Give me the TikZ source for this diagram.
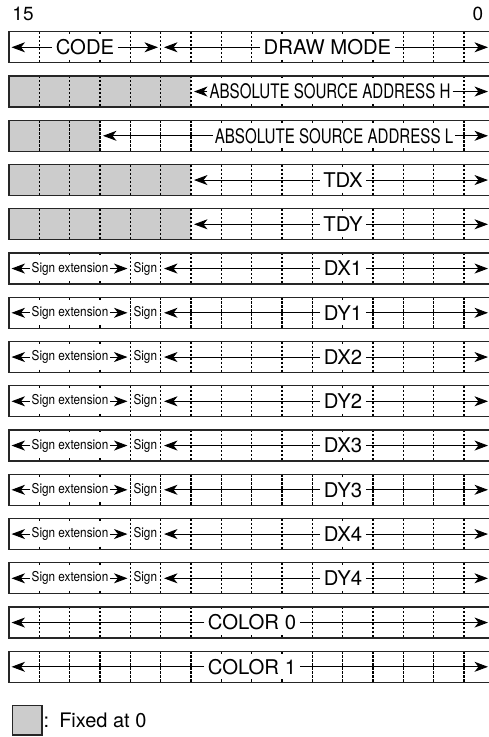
\documentclass[tikz,border=0pt]{standalone}
\usepackage{fontspec}
\setmainfont{TeX Gyre Heros}
\newfontfamily\absfont[FakeStretch=0.755]{TeX Gyre Heros}
\newfontfamily\sgnfont[FakeStretch=0.87]{TeX Gyre Heros}
\usetikzlibrary{arrows.meta}
\begin{document}
\begin{tikzpicture}[x=1pt,y=-1pt,
  regbox/.style={draw=black!85, line width=1.3pt},
  fixedfill/.style={fill=black!20},
  bitsep/.style={dash pattern=on 2.4pt off 1.6pt, line width=1.1pt},
  arr/.style={-{Stealth[length=13.5pt,width=10pt,inset=4pt]}, line width=1pt},
  lbl/.style={fill=white, font=\fontsize{20.3}{20.3}\selectfont, inner xsep=3.5pt, inner ysep=0pt, minimum height=23pt},
  abslbl/.style={lbl, font=\absfont\fontsize{20}{20}\selectfont, inner xsep=2pt},
  sgnlbl/.style={lbl, font=\sgnfont\fontsize{13.5}{13.5}\selectfont, inner xsep=1.5pt},
  bitnum/.style={font=\fontsize{19}{19}\selectfont, inner sep=0pt},
]
\useasboundingbox (0,0) rectangle (489,737);

% fixed-at-0 areas
\fill[fixedfill] (9,76.05) rectangle (191,107.05);
\fill[fixedfill] (9,120.3) rectangle (100,151.3);
\fill[fixedfill] (9,164.55) rectangle (191,195.55);
\fill[fixedfill] (9,208.8) rectangle (191,239.8);

% bit separators
\foreach \k in {1,...,15} {
  \pgfmathsetmacro\T{31.8+44.25*(\k-1)}
  \foreach \i in {1,...,15} {
    \draw[bitsep] ({9+30.33*\i},\T) -- ({9+30.33*\i},\T+31);
  }
}

% bit numbers
\node[bitnum] (b15) at (23,14) {15};
\node[bitnum] (b0) at (478,14) {0};

% row 1
\node[lbl] (code) at (85,47.3) {CODE};
\coordinate (codeL) at (11.5,47.3);
\coordinate (codeR) at (158,47.3);
\draw[arr] (code.west) -- (codeL);
\draw[arr] (code.east) -- (codeR);
\node[lbl] (dmode) at (327.5,47.3) {DRAW MODE};
\coordinate (dmodeL) at (164,47.3);
\coordinate (dmodeR) at (488,47.3);
\draw[arr] (dmode.west) -- (dmodeL);
\draw[arr] (dmode.east) -- (dmodeR);

% row 2
\node[abslbl] (absh) at (330,91.55) {ABSOLUTE SOURCE ADDRESS H};
\coordinate (abshL) at (194,91.55);
\coordinate (abshR) at (488,91.55);
\draw[arr] (absh.west) -- (abshL);
\draw[arr] (absh.east) -- (abshR);

% row 3
\node[abslbl] (absl) at (334,135.8) {ABSOLUTE SOURCE ADDRESS L};
\coordinate (abslL) at (103,135.8);
\coordinate (abslR) at (488,135.8);
\draw[arr] (absl.west) -- (abslL);
\draw[arr] (absl.east) -- (abslR);

% rows 4,5
\foreach \k/\t in {4/TDX,5/TDY} {
  \pgfmathsetmacro\C{31.8+44.25*(\k-1)+15.5}
  \node[lbl] (t\k) at (343,\C) {\t};
  \coordinate (t\k L) at (194,\C);
  \coordinate (t\k R) at (488,\C);
  \draw[arr] (t\k.west) -- (t\k L);
  \draw[arr] (t\k.east) -- (t\k R);
}

% rows 6-13
\foreach \k/\t in {6/DX1,7/DY1,8/DX2,9/DY2,10/DX3,11/DY3,12/DX4,13/DY4} {
  \pgfmathsetmacro\C{31.8+44.25*(\k-1)+15.5}
  \node[sgnlbl] (se\k) at (70,\C) {Sign extension};
  \coordinate (se\k L) at (11.5,\C);
  \coordinate (se\k R) at (127.5,\C);
  \draw[arr] (se\k.west) -- (se\k L);
  \draw[arr] (se\k.east) -- (se\k R);
  \node[sgnlbl] (sg\k) at (145.3,\C) {Sign};
  \node[lbl] (d\k) at (343,\C) {\t};
  \coordinate (d\k L) at (164,\C);
  \coordinate (d\k R) at (488,\C);
  \draw[arr] (d\k.west) -- (d\k L);
  \draw[arr] (d\k.east) -- (d\k R);
}

% rows 14,15
\foreach \k/\t in {14/COLOR 0,15/COLOR 1} {
  \pgfmathsetmacro\C{31.8+44.25*(\k-1)+15.5}
  \node[lbl] (col\k) at (252,\C) {\t};
  \coordinate (col\k L) at (11.5,\C);
  \coordinate (col\k R) at (488,\C);
  \draw[arr] (col\k.west) -- (col\k L);
  \draw[arr] (col\k.east) -- (col\k R);
}

% register outlines
\foreach \k in {1,...,15} {
  \pgfmathsetmacro\T{31.8+44.25*(\k-1)}
  \draw[regbox] (9,\T) rectangle (494.3,\T+31);
}

% legend
\node[regbox, line width=1.1pt, fixedfill, minimum width=29.3pt, minimum height=29.3pt, inner sep=0pt] (legbox) at (27.35,720.35) {};
\node[anchor=base west, inner sep=0pt, font=\fontsize{20}{20}\selectfont] (legtxt) at (43.5,727) {:\hspace{10pt}Fixed at 0};
\end{tikzpicture}
\end{document}
